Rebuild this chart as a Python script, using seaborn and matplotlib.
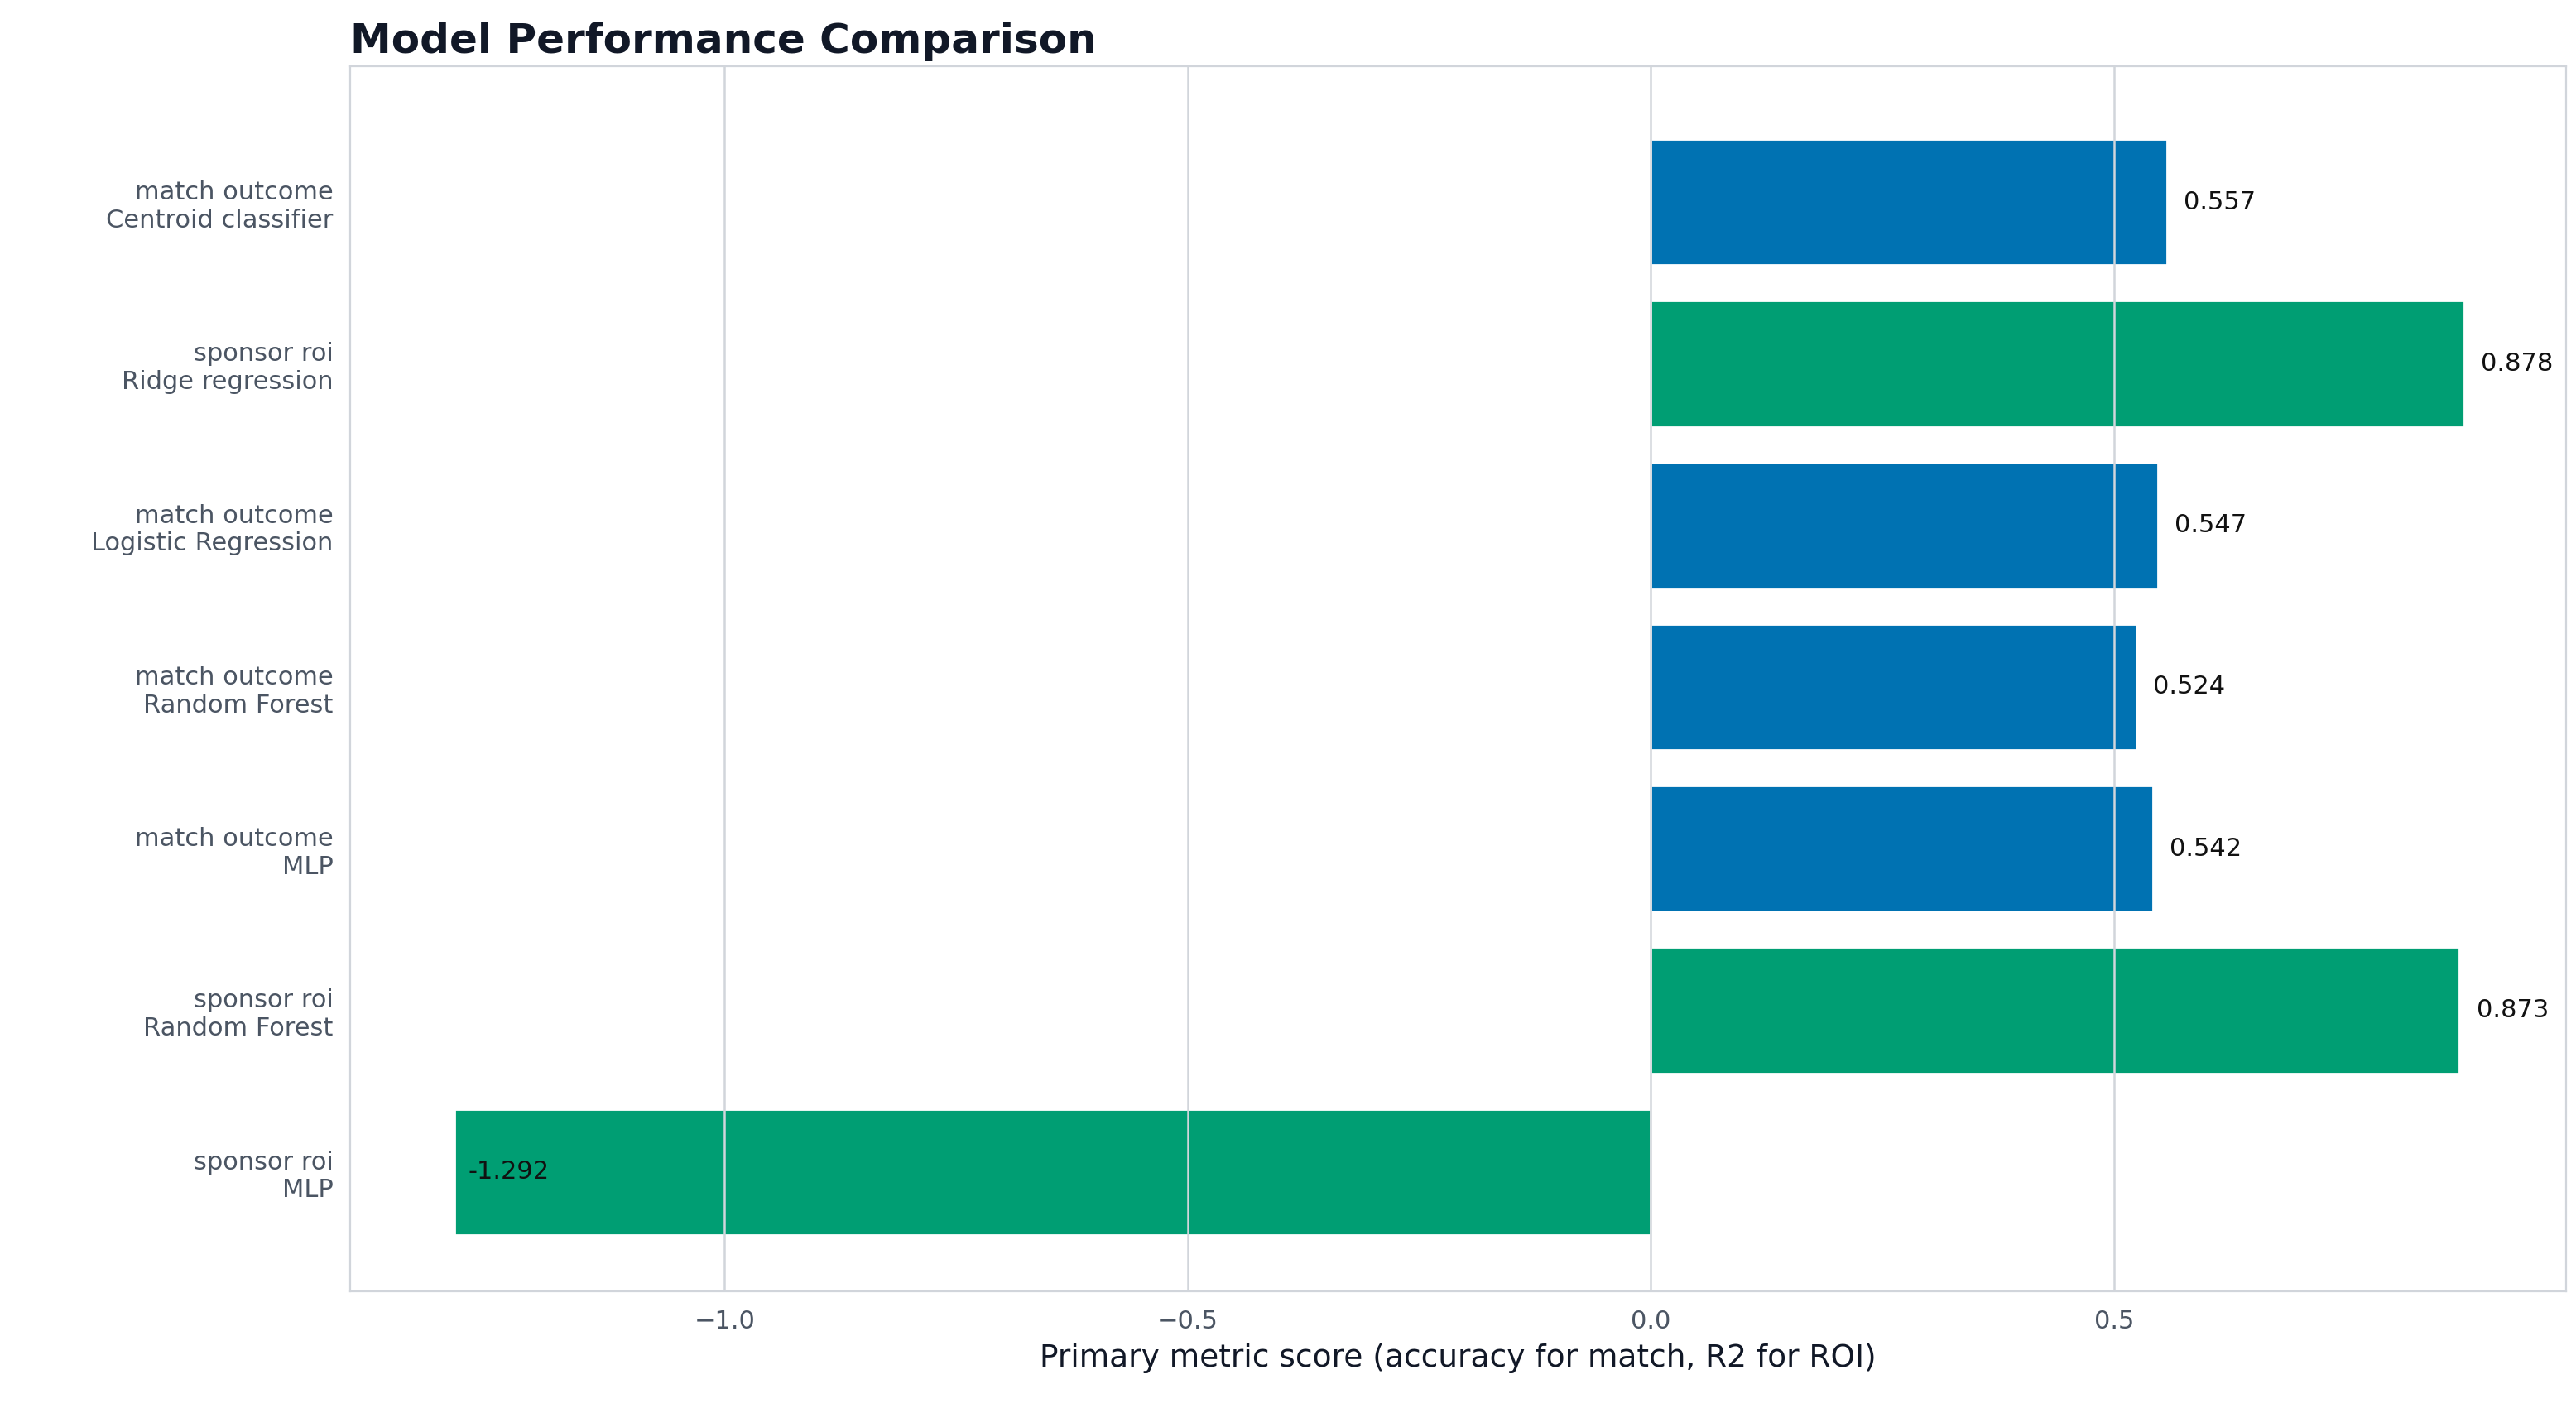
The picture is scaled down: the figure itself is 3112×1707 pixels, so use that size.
import matplotlib
matplotlib.use("Agg")
import matplotlib.pyplot as plt
import seaborn as sns
import pandas as pd

tasks = ["match outcome", "sponsor roi", "match outcome", "match outcome",
         "match outcome", "sponsor roi", "sponsor roi"]
models = ["Centroid classifier", "Ridge regression", "Logistic Regression",
          "Random Forest", "MLP", "Random Forest", "MLP"]
scores = [0.557, 0.878, 0.547, 0.524, 0.542, 0.873, -1.292]

df = pd.DataFrame({"task": tasks, "model": models, "score": scores})
df["label"] = df["task"] + "\n" + df["model"]

sns.set_style("white")
fig = plt.figure(figsize=(15.56, 8.535), dpi=200)
ax = fig.add_axes([0.136, 0.086, 0.86, 0.867])

palette = {"match outcome": "#0072B2", "sponsor roi": "#009E73"}
sns.barplot(data=df, x="score", y="label", hue="task", palette=palette,
            dodge=False, orient="h", width=0.78, legend=False, ax=ax,
            saturation=1)

for i, v in enumerate(scores):
    x = v + 0.018 if v >= 0 else v + 0.015
    ax.text(x, i, f"{v:.3f}", va="center", ha="left", fontsize=11, color="#111111")

ax.set_xlim(-1.404, 0.9875)
ax.set_ylim(6.74, -0.84)
ax.set_xticks([-1.0, -0.5, 0.0, 0.5])
ax.set_axisbelow(False)
ax.grid(axis="x", color="#d1d5db", linewidth=0.9)
for s in ax.spines.values():
    s.set_color("#d1d5db")
ax.tick_params(axis="both", labelsize=11, colors="#4b5563", length=4)
ax.tick_params(axis="x", length=0, pad=8)
for t in ax.get_yticklabels() + ax.get_xticklabels():
    t.set_color("#4b5563")
ax.set_ylabel("")
ax.set_xlabel("Primary metric score (accuracy for match, R2 for ROI)",
              fontsize=13.5, color="#111827")
ax.set_title("Model Performance Comparison", loc="left", fontsize=18,
             fontweight="bold", color="#111827", pad=6)

fig.savefig("out.png", dpi=200)
